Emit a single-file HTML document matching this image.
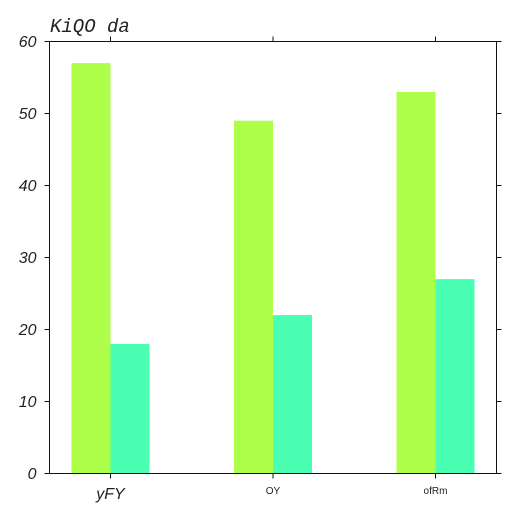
<!DOCTYPE html>
<html><head><meta charset="utf-8"><style>body{margin:0;background:#fff}</style></head>
<body>
<svg id="c" width="518" height="518" xmlns="http://www.w3.org/2000/svg"></svg>
<script>
const categories = ["yFY", "OY", "ofRm"];
const seriesA = [57, 49, 53];
const seriesB = [18, 22, 27];
const yTicks = [0, 10, 20, 30, 40, 50, 60];
const NS = "http://www.w3.org/2000/svg";
const svg = document.getElementById("c");
const L = 49.5, R = 496.5, T = 41.5, B = 473.5;
const y = v => B - (v / 60) * (B - T);
const cx = i => 110.5 + i * 162.5;
const bw = 39;
function mk(tag, attrs, text) {
  const e = document.createElementNS(NS, tag);
  for (const k in attrs) e.setAttribute(k, attrs[k]);
  if (text !== undefined) e.textContent = text;
  svg.appendChild(e);
  return e;
}
categories.forEach((c, i) => {
  const a = mk("rect", {x: cx(i) - bw, y: y(seriesA[i]), width: bw, height: B - y(seriesA[i]), fill: "#adff4a"});
  
  
  const b = mk("rect", {x: cx(i), y: y(seriesB[i]), width: bw, height: B - y(seriesB[i]), fill: "#4affb4"});
  
  
});
const frame = mk("rect", {x: L, y: T, width: R - L, height: B - T, fill: "none", stroke: "#111", "stroke-width": 1});


yTicks.forEach(v => {
  mk("line", {x1: L - 5, x2: L, y1: y(v), y2: y(v), stroke: "#111"});
  mk("line", {x1: R, x2: R + 5, y1: y(v), y2: y(v), stroke: "#111"});
  const t = mk("text", {x: L - 13, y: y(v) + 5.5, "text-anchor": "end", "font-family": "Liberation Sans, sans-serif", "font-size": 16, "font-style": "italic", fill: "#222"}, v);
  
  
});
categories.forEach((c, i) => {
  mk("line", {x1: cx(i), x2: cx(i), y1: B, y2: B + 5, stroke: "#111"});
  mk("line", {x1: cx(i), x2: cx(i), y1: T - 5, y2: T, stroke: "#111"});
  const big = i === 0;
  const t = mk("text", {x: cx(i), y: big ? 499 : 494, "text-anchor": "middle", "font-family": "Liberation Sans, sans-serif", "font-size": big ? 16 : 10, "font-style": big ? "italic" : "normal", fill: "#222"}, c);
  
  
});
const title = mk("text", {x: 50, y: 32, "font-family": "Liberation Mono, monospace", "font-size": 19, "font-style": "italic", fill: "#222"}, "KiQO da");


</script>
</body></html>
